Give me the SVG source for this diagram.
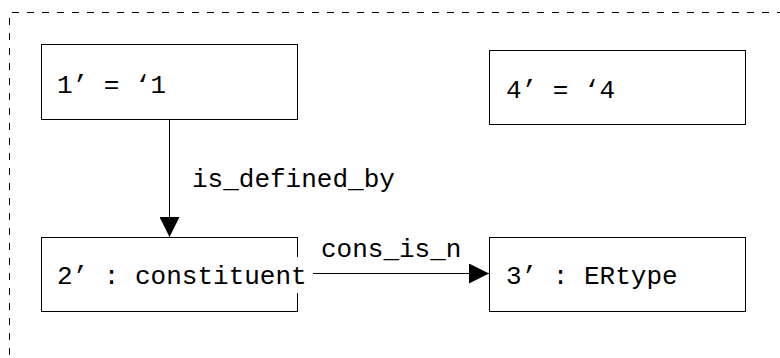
<svg xmlns="http://www.w3.org/2000/svg" width="780" height="358" viewBox="0 0 780 358">
<style>
.box{fill:#fff;stroke:#000;stroke-width:1}
.t{font-family:"Liberation Mono","Courier New",monospace;font-size:26px;fill:#000}
.edge{stroke:#000;stroke-width:1;fill:none}
.frame{stroke:#000;stroke-width:1;fill:none;stroke-dasharray:7 8}
</style>
<defs>
<marker id="ah" markerWidth="20" markerHeight="20" viewBox="0 0 20 20" refX="20" refY="10" orient="auto" markerUnits="userSpaceOnUse">
<path d="M0,0 L20,10 L0,20 Z" fill="#000"/>
</marker>
</defs>
<rect width="780" height="358" fill="#fff"/>
<path class="frame" d="M9.5,370 V12.5 H790"/>
<g id="connectors">
<line class="edge" x1="169.5" y1="119.5" x2="169.5" y2="237" marker-end="url(#ah)"/>
<text class="t" x="192" y="187">is_defined_by</text>
<line class="edge" x1="297" y1="273.5" x2="489" y2="273.5" marker-end="url(#ah)"/>
<text class="t" x="321" y="257">cons_is_n</text>
</g>
<g id="node1">
<rect class="box" x="41.5" y="44.5" width="256" height="75"/>
<text class="t" x="57" y="93">1’ = ‘1</text>
</g>
<g id="node4">
<rect class="box" x="489.5" y="50.5" width="256" height="74"/>
<text class="t" x="506" y="98">4’ = ‘4</text>
</g>
<g id="node2">
<rect class="box" x="41.5" y="237.5" width="256" height="74"/>
<rect x="296" y="257" width="17" height="36" fill="#fff"/>
<text class="t" x="57" y="284">2’ : constituent</text>
</g>
<g id="node3">
<rect class="box" x="489.5" y="237.5" width="256" height="74"/>
<text class="t" x="506" y="284">3’ : ERtype</text>
</g>
</svg>
